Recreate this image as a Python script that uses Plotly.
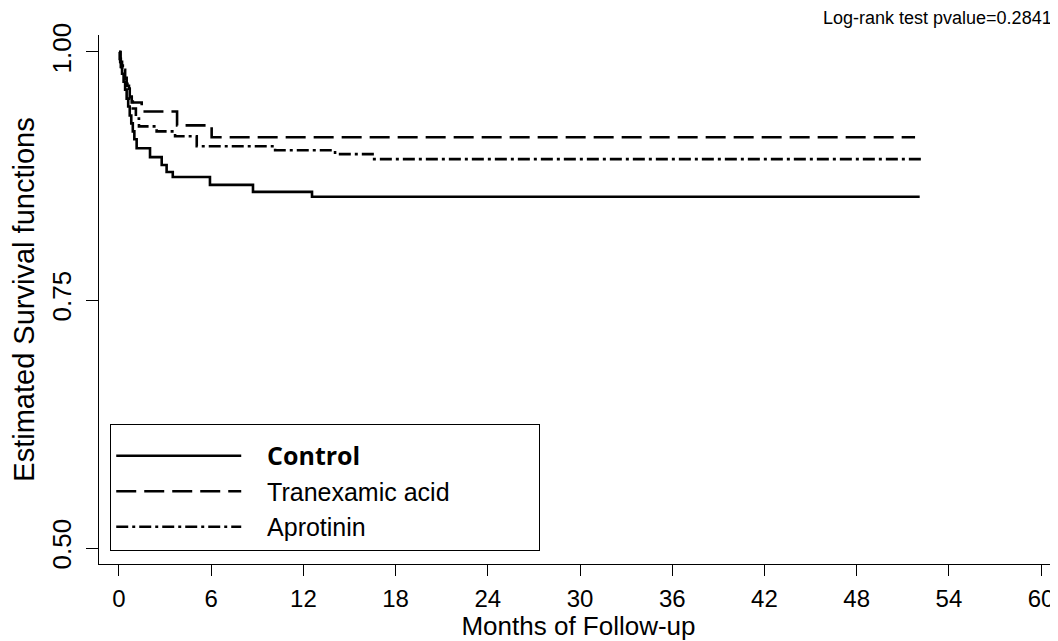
import plotly.graph_objects as go

# ---- data ----
groups = ["Control", "Tranexamic acid", "Aprotinin"]

control_t = [0, 0.05, 0.12, 0.2, 0.3, 0.4, 0.5, 0.6, 0.7, 0.8, 0.9, 1.0, 1.15,
             2.02, 2.78, 3.1, 3.5, 5.92, 8.72, 12.56, 52.1]
control_s = [1.0, 0.993, 0.985, 0.978, 0.97, 0.962, 0.953, 0.945, 0.936, 0.928,
             0.92, 0.912, 0.903, 0.894, 0.886, 0.879, 0.874, 0.866, 0.859, 0.854, 0.854]

tranex_t = [0, 0.08, 0.2, 0.35, 0.5, 0.65, 0.83, 1.48, 3.78, 6.03, 51.8]
tranex_s = [1.0, 0.99, 0.982, 0.974, 0.966, 0.957, 0.949, 0.940, 0.926, 0.914, 0.914]

aprot_t = [0, 0.1, 0.25, 0.4, 0.55, 0.7, 0.9, 1.1, 1.3, 2.45, 3.65, 5.06,
           10.16, 14.06, 16.5, 52.2]
aprot_s = [1.0, 0.99, 0.982, 0.973, 0.963, 0.953, 0.943, 0.933, 0.925, 0.920,
           0.915, 0.905, 0.901, 0.897, 0.892, 0.892]

x_ticks = [0, 6, 12, 18, 24, 30, 36, 42, 48, 54, 60]
y_ticks = [0.50, 0.75, 1.00]
y_ticktext = ["0.50", "0.75", "1.00"]
pvalue_text = "Log-rank test pvalue=0.2841"

FONT = "Liberation Sans, Arial, sans-serif"
LEAD = "&nbsp;" * 3          # gap between legend sample and label
TRAIL = "&nbsp;" * 12        # empty room at the right of the legend box

legend_names = [
    LEAD + "<span style=\"font-family:'Open Sans'\"><b>" + groups[0] + "</b></span>",
    LEAD + groups[1] + TRAIL,
    LEAD + groups[2],
]

fig = go.Figure()
fig.add_trace(go.Scatter(
    x=control_t, y=control_s, mode="lines", line_shape="hv", name=legend_names[0],
    line=dict(color="black", width=2.6, dash="solid")))
fig.add_trace(go.Scatter(
    x=tranex_t, y=tranex_s, mode="lines", line_shape="hv", name=legend_names[1],
    line=dict(color="black", width=2.6, dash="20px,8px")))
fig.add_trace(go.Scatter(
    x=aprot_t, y=aprot_s, mode="lines", line_shape="hv", name=legend_names[2],
    line=dict(color="black", width=2.6, dash="12px,4px,3px,4px")))

# page body adds an 8px offset; the figure is sized so the plot lands where it should
fig.update_layout(
    width=1050, height=633,
    margin=dict(l=91, r=0, t=27, b=77, autoexpand=False),
    paper_bgcolor="white", plot_bgcolor="white",
    font=dict(family=FONT, color="black", size=24),
    showlegend=True,
    legend=dict(
        x=0.0115, y=0.2647, xanchor="left", yanchor="top",
        bordercolor="black", borderwidth=1.2, bgcolor="white",
        font=dict(family=FONT, size=25, color="black"),
        itemwidth=125, tracegroupgap=0,
        title=dict(text=" ", font=dict(size=6)),
    ),
    xaxis=dict(
        range=[-1.30, 61.1], tickvals=x_ticks,
        ticks="outside", ticklen=11, tickwidth=1.3, tickcolor="black",
        showline=True, linecolor="black", linewidth=1.3,
        showgrid=False, zeroline=False, ticklabelstandoff=2,
        tickfont=dict(size=24, family=FONT),
        title=dict(text="Months of Follow-up", font=dict(size=26, family=FONT), standoff=0),
    ),
    yaxis=dict(
        range=[0.4839, 1.0171], tickvals=y_ticks, ticktext=y_ticktext,
        tickangle=-90,
        ticks="outside", ticklen=12, tickwidth=1.3, tickcolor="black",
        showline=True, linecolor="black", linewidth=1.3,
        showgrid=False, zeroline=False, ticklabelstandoff=4,
        tickfont=dict(size=26, family=FONT),
        title=dict(text="Estimated Survival functions", font=dict(size=29, family=FONT), standoff=6),
    ),
    annotations=[dict(
        text=pvalue_text, xref="paper", yref="paper", x=1.0, y=1.0,
        xanchor="right", yanchor="middle", xshift=-4, yshift=17, showarrow=False,
        font=dict(size=18, family=FONT, color="black"))],
)

fig.write_html("out.html")
